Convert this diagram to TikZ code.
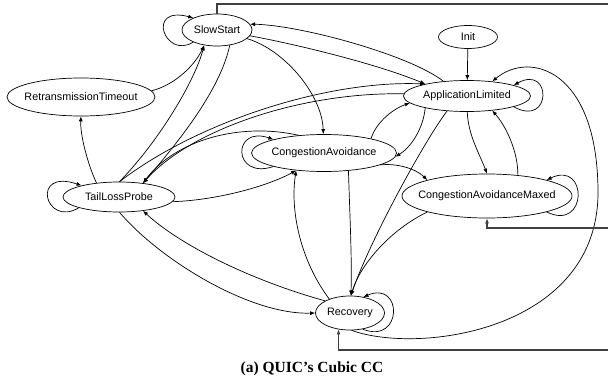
\documentclass[tikz,border=0pt]{standalone}
\usepackage{fontspec}
\setsansfont{Liberation Sans}
\newfontfamily\capfont{Liberation Serif}
\usetikzlibrary{shapes.geometric,arrows.meta,calc}
\tikzset{
	etat/.style={ellipse,draw,line width=0.7pt,inner sep=0pt,font=\sffamily\fontsize{10.8}{12}\selectfont},
	trans/.style={line width=0.7pt,-{Latex[length=5pt,width=4pt]}},
	bord/.style={line width=1.3pt,black!75}
}
\newcommand{\etq}[1]{\makebox[0pt]{#1}}

\begin{document}
\begin{tikzpicture}[x=1pt,y=-1pt]
\useasboundingbox (0,0) rectangle (608,383);

%Etats
\node[etat,minimum width=70pt,minimum height=32pt] (ss) at (217,30) {\etq{SlowStart}};
\node[etat,minimum width=59pt,minimum height=23pt] (init) at (468,37) {\etq{Init}};
\node[etat,minimum width=127pt,minimum height=31pt] (al) at (467,96) {\etq{ApplicationLimited}};
\node[etat,minimum width=148pt,minimum height=38pt] (rto) at (81,97) {\etq{RetransmissionTimeout}};
\node[etat,minimum width=145pt,minimum height=37pt] (ca) at (324,153) {\etq{CongestionAvoidance}};
\node[etat,minimum width=112pt,minimum height=30pt] (tlp) at (119,197) {\etq{TailLossProbe}};
\node[etat,minimum width=170pt,minimum height=44pt] (cam) at (487,196) {\etq{CongestionAvoidanceMaxed}};
\node[etat,minimum width=69pt,minimum height=34pt] (rec) at (350,313) {\etq{Recovery}};

%Boucles
\draw[trans] (ss.207) .. controls (165,60) and (145,5) .. (ss.153);
\draw[trans] (tlp.195) .. controls (45,228) and (30,168) .. (tlp.163);
\draw[trans] (ca.195) .. controls (232,180) and (232,125) .. (ca.165);
\draw[trans] (al.-13) .. controls (552,128) and (552,64) .. (al.13);
\draw[trans] (cam.-15) .. controls (588,232) and (588,160) .. (cam.15);
\draw[trans] (rec.-52) .. controls (403,345) and (403,280) .. (rec.50);

%Transitions
\draw[trans] (init) -- (al);
\draw[trans] (al.148) .. controls (410,55) and (300,25) .. (ss.10);
\draw[trans] (ss.-10) .. controls (300,45) and (380,65) .. (al.164);
\draw[trans] (ss.-16) .. controls (285,50) and (322,95) .. (ca.92);
\draw[trans] (ss.-50) .. controls (220,90) and (180,140) .. (tlp.30);
\draw[trans] (tlp.88) .. controls (160,140) and (195,80) .. (ss.-130);
\draw[trans] (rto.5) .. controls (175,85) and (195,65) .. (ss.-130);
\draw[trans] (tlp.148) .. controls (88,165) and (80,135) .. (rto.-90);
\draw[trans] (tlp.88) .. controls (200,120) and (330,80) .. (al.164);
\draw[trans] (al.178) .. controls (300,92) and (190,130) .. (tlp.30);
\draw[trans] (ca.145) .. controls (240,122) and (175,140) .. (tlp.30);
\draw[trans] (tlp.-5) .. controls (220,200) and (270,185) .. (ca.-148);
\draw[trans] (rec.146) .. controls (300,260) and (290,210) .. (ca.-148);
\draw[trans] (ca.-36) .. controls (350,220) and (352,260) .. (rec.87);
\draw[trans] (al.-143) .. controls (425,140) and (370,240) .. (rec.87);
\draw[trans] (cam.-165) .. controls (390,230) and (360,265) .. (rec.87);
\draw[trans] (tlp.-88) .. controls (160,260) and (250,315) .. (rec.180);
\draw[trans] (rec.154) .. controls (250,280) and (180,245) .. (tlp.-30);
\draw[trans] (al.-164) .. controls (423,130) and (410,148) .. (ca.-3);
\draw[trans] (ca.17) .. controls (375,125) and (390,110) .. (al.-173);
\draw[trans] (al.-89) .. controls (468,135) and (480,155) .. (cam.90);
\draw[trans] (cam.34) .. controls (518,150) and (505,125) .. (al.-30);
\draw[trans] (ca.-12) .. controls (395,163) and (415,168) .. (cam.165);
\draw[trans] (rec.-85) .. controls (420,355) and (600,330) .. (598,190)
	.. controls (597,70) and (530,50) .. (al.30);

%Sorties vers la droite
\coordinate (sortieA) at (610,4);
\coordinate (entreeB) at (610,228);
\coordinate (entreeC) at (610,350);
\draw[bord] (ss.north) |- (sortieA);
\draw[bord,-{Latex[length=5pt,width=4pt]}] (entreeB) -| (cam.south);
\draw[bord,-{Latex[length=5pt,width=4pt]}] (entreeC) -| (rec.-125);

%Legende
\node[font=\capfont\bfseries\fontsize{15.5}{18}\selectfont] (titre) at (312,369) {(a) QUIC’s Cubic CC};
\end{tikzpicture}
\end{document}
